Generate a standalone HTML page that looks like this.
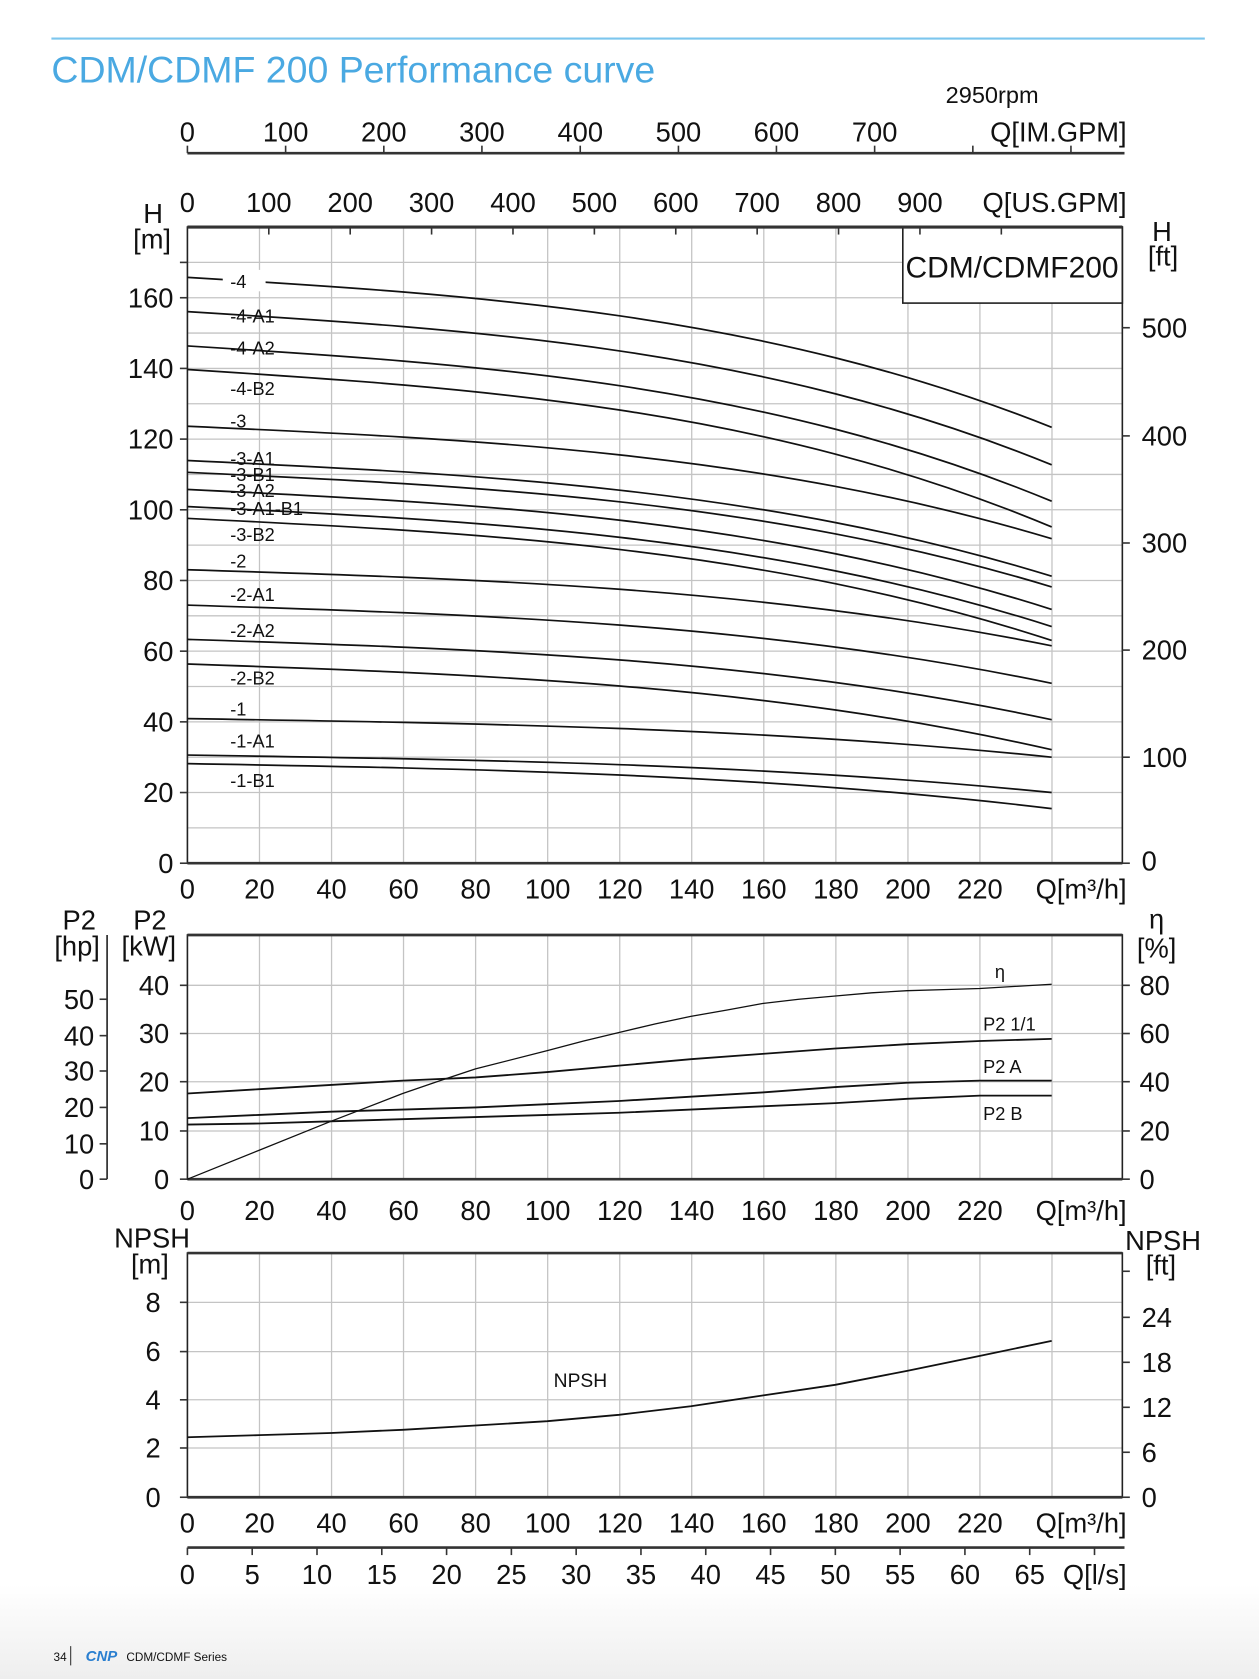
<!DOCTYPE html>
<html><head><meta charset="utf-8"><style>
html,body{margin:0;padding:0;background:#fff}
svg{display:block}
text{font-family:"Liberation Sans",Arial,sans-serif;fill:#111}
</style></head><body>
<svg width="1259" height="1679" viewBox="0 0 1175.6 1567.7" preserveAspectRatio="none" xmlns="http://www.w3.org/2000/svg">
<defs><linearGradient id="fg" x1="0" y1="0" x2="0" y2="1"><stop offset="0" stop-color="#fff"/><stop offset="1" stop-color="#eeeeee"/></linearGradient></defs>
<rect x="0" y="1480" width="1176" height="88" fill="url(#fg)"/>
<line x1="48" y1="36" x2="1125" y2="36" stroke="#7cc6ee" stroke-width="2"/>
<text x="48" y="77" font-size="35" style="fill:#4aa9e2">CDM/CDMF 200 Performance curve</text>
<text x="883" y="96" font-size="22">2950rpm</text>

<!-- IM GPM axis -->
<g font-size="25.5" text-anchor="middle">
<line x1="175" y1="143" x2="1050" y2="143" stroke="#333" stroke-width="2.5"/>
<g stroke="#333" stroke-width="1.5">
<line x1="175" y1="136" x2="175" y2="143"/><line x1="266.7" y1="136" x2="266.7" y2="143"/><line x1="358.4" y1="136" x2="358.4" y2="143"/><line x1="450" y1="136" x2="450" y2="143"/><line x1="541.8" y1="136" x2="541.8" y2="143"/><line x1="633.5" y1="136" x2="633.5" y2="143"/><line x1="725" y1="136" x2="725" y2="143"/><line x1="816.7" y1="136" x2="816.7" y2="143"/><line x1="908.4" y1="136" x2="908.4" y2="143"/><line x1="1000" y1="136" x2="1000" y2="143"/></g>
<text x="175" y="132">0</text><text x="266.7" y="132">100</text><text x="358.4" y="132">200</text><text x="450" y="132">300</text><text x="541.8" y="132">400</text><text x="633.5" y="132">500</text><text x="725" y="132">600</text><text x="816.7" y="132">700</text>
<text x="1052" y="132" text-anchor="end">Q[IM.GPM]</text>
</g>

<!-- Chart 1 -->
<g stroke="#c4c4c4" stroke-width="1.2">
<line x1="242.3" y1="212" x2="242.3" y2="806"/><line x1="309.6" y1="212" x2="309.6" y2="806"/><line x1="376.8" y1="212" x2="376.8" y2="806"/><line x1="444.1" y1="212" x2="444.1" y2="806"/><line x1="511.4" y1="212" x2="511.4" y2="806"/><line x1="578.7" y1="212" x2="578.7" y2="806"/><line x1="645.9" y1="212" x2="645.9" y2="806"/><line x1="713.2" y1="212" x2="713.2" y2="806"/><line x1="780.5" y1="212" x2="780.5" y2="806"/><line x1="847.8" y1="212" x2="847.8" y2="806"/><line x1="915" y1="212" x2="915" y2="806"/><line x1="982.3" y1="212" x2="982.3" y2="806"/>
<line x1="175" y1="245" x2="1048" y2="245"/><line x1="175" y1="278" x2="1048" y2="278"/><line x1="175" y1="311" x2="1048" y2="311"/><line x1="175" y1="344" x2="1048" y2="344"/><line x1="175" y1="377" x2="1048" y2="377"/><line x1="175" y1="410" x2="1048" y2="410"/><line x1="175" y1="443" x2="1048" y2="443"/><line x1="175" y1="476" x2="1048" y2="476"/><line x1="175" y1="509" x2="1048" y2="509"/><line x1="175" y1="542" x2="1048" y2="542"/><line x1="175" y1="575" x2="1048" y2="575"/><line x1="175" y1="608" x2="1048" y2="608"/><line x1="175" y1="641" x2="1048" y2="641"/><line x1="175" y1="674" x2="1048" y2="674"/><line x1="175" y1="707" x2="1048" y2="707"/><line x1="175" y1="740" x2="1048" y2="740"/><line x1="175" y1="773" x2="1048" y2="773"/>
</g>
<rect x="843" y="212" width="205" height="71" fill="#fff" stroke="#222" stroke-width="1.5"/>
<text x="945" y="259" font-size="28" text-anchor="middle">CDM/CDMF200</text>
<rect x="175" y="212" width="873" height="594" fill="none" stroke="#222" stroke-width="1.5"/>
<line x1="175" y1="212" x2="1048" y2="212" stroke="#333" stroke-width="3"/>
<line x1="175" y1="806" x2="1048" y2="806" stroke="#333" stroke-width="2.5"/>
<g stroke="#333" stroke-width="1.5">
<line x1="251" y1="212" x2="251" y2="219"/><line x1="327" y1="212" x2="327" y2="219"/><line x1="403" y1="212" x2="403" y2="219"/><line x1="479" y1="212" x2="479" y2="219"/><line x1="555" y1="212" x2="555" y2="219"/><line x1="631" y1="212" x2="631" y2="219"/><line x1="707" y1="212" x2="707" y2="219"/><line x1="783" y1="212" x2="783" y2="219"/><line x1="859" y1="212" x2="859" y2="219"/><line x1="935" y1="212" x2="935" y2="219"/>
<line x1="168" y1="278" x2="175" y2="278"/><line x1="168" y1="344" x2="175" y2="344"/><line x1="168" y1="410" x2="175" y2="410"/><line x1="168" y1="476" x2="175" y2="476"/><line x1="168" y1="542" x2="175" y2="542"/><line x1="168" y1="608" x2="175" y2="608"/><line x1="168" y1="674" x2="175" y2="674"/><line x1="168" y1="740" x2="175" y2="740"/><line x1="168" y1="806" x2="175" y2="806"/><line x1="168" y1="245" x2="175" y2="245"/>
<line x1="1048" y1="306" x2="1055" y2="306"/><line x1="1048" y1="407" x2="1055" y2="407"/><line x1="1048" y1="507" x2="1055" y2="507"/><line x1="1048" y1="607" x2="1055" y2="607"/><line x1="1048" y1="707" x2="1055" y2="707"/><line x1="1048" y1="806" x2="1055" y2="806"/>
</g>
<g font-size="25.5" text-anchor="middle">
<text x="175" y="198">0</text><text x="251" y="198">100</text><text x="327" y="198">200</text><text x="403" y="198">300</text><text x="479" y="198">400</text><text x="555" y="198">500</text><text x="631" y="198">600</text><text x="707" y="198">700</text><text x="783" y="198">800</text><text x="859" y="198">900</text>
<text x="1052" y="198" text-anchor="end">Q[US.GPM]</text>
<text x="143" y="208">H</text><text x="142" y="232">[m]</text>
<text x="1085" y="225">H</text><text x="1086" y="248">[ft]</text>
</g>
<g font-size="25.5" text-anchor="end">
<text x="162" y="287">160</text><text x="162" y="353">140</text><text x="162" y="419">120</text><text x="162" y="485">100</text><text x="162" y="551">80</text><text x="162" y="617">60</text><text x="162" y="683">40</text><text x="162" y="749">20</text><text x="162" y="815">0</text>
</g>
<g font-size="25.5">
<text x="1066" y="315">500</text><text x="1066" y="416">400</text><text x="1066" y="516">300</text><text x="1066" y="616">200</text><text x="1066" y="716">100</text><text x="1066" y="813">0</text>
</g>
<g font-size="25.5" text-anchor="middle">
<text x="175" y="839">0</text><text x="242.3" y="839">20</text><text x="309.6" y="839">40</text><text x="376.8" y="839">60</text><text x="444.1" y="839">80</text><text x="511.4" y="839">100</text><text x="578.7" y="839">120</text><text x="645.9" y="839">140</text><text x="713.2" y="839">160</text><text x="780.5" y="839">180</text><text x="847.8" y="839">200</text><text x="915" y="839">220</text>
<text x="1052" y="839" text-anchor="end">Q[m³/h]</text>
</g>
<!-- H curves -->
<g fill="none" stroke="#111" stroke-width="1.6">
<path d="M175,259 C444,275.3 713,291.7 982,399"/>
<path d="M175,291 C444,307.7 713,324.4 982,434"/>
<path d="M175,323 C444,339.9 713,356.8 982,468"/>
<path d="M175,345 C444,362.3 713,379.6 982,492"/>
<path d="M175,398 C444,410.1 713,422.2 982,503"/>
<path d="M175,430 C444,442.6 713,455.2 982,538"/>
<path d="M175,441 C444,453.6 713,466.2 982,548"/>
<path d="M175,457 C444,470.1 713,483.1 982,569"/>
<path d="M175,473 C444,486.1 713,499.1 982,585"/>
<path d="M175,484 C444,497.2 713,510.3 982,598"/>
<path d="M175,532 C444,540.3 713,548.6 982,603"/>
<path d="M175,565 C444,573.5 713,581.9 982,638"/>
<path d="M175,597 C444,605.8 713,614.3 982,672"/>
<path d="M175,620 C444,629.3 713,638.7 982,700"/>
<path d="M175,671 C444,675.2 713,679.4 982,707"/>
<path d="M175,705 C444,709.1 713,713.2 982,740"/>
<path d="M175,713 C444,717.8 713,722.6 982,755"/>
</g>
<g font-size="17">
<rect x="208" y="252" width="40" height="20" fill="#fff"/>
<text x="215" y="269">-4</text><text x="215" y="301">-4-A1</text><text x="215" y="331">-4-A2</text><text x="215" y="369">-4-B2</text><text x="215" y="399">-3</text><text x="215" y="434">-3-A1</text><text x="215" y="449">-3-B1</text><text x="215" y="464">-3-A2</text><text x="215" y="481">-3-A1-B1</text><text x="215" y="505">-3-B2</text><text x="215" y="530">-2</text><text x="215" y="561">-2-A1</text><text x="215" y="595">-2-A2</text><text x="215" y="639">-2-B2</text><text x="215" y="668">-1</text><text x="215" y="698">-1-A1</text><text x="215" y="735">-1-B1</text>
</g>

<!-- Chart 2 -->
<g stroke="#c4c4c4" stroke-width="1.2">
<line x1="242.3" y1="873" x2="242.3" y2="1101"/><line x1="309.6" y1="873" x2="309.6" y2="1101"/><line x1="376.8" y1="873" x2="376.8" y2="1101"/><line x1="444.1" y1="873" x2="444.1" y2="1101"/><line x1="511.4" y1="873" x2="511.4" y2="1101"/><line x1="578.7" y1="873" x2="578.7" y2="1101"/><line x1="645.9" y1="873" x2="645.9" y2="1101"/><line x1="713.2" y1="873" x2="713.2" y2="1101"/><line x1="780.5" y1="873" x2="780.5" y2="1101"/><line x1="847.8" y1="873" x2="847.8" y2="1101"/><line x1="915" y1="873" x2="915" y2="1101"/><line x1="982.3" y1="873" x2="982.3" y2="1101"/>
<line x1="175" y1="1056" x2="1048" y2="1056"/><line x1="175" y1="1010" x2="1048" y2="1010"/><line x1="175" y1="965" x2="1048" y2="965"/><line x1="175" y1="920" x2="1048" y2="920"/>
</g>
<rect x="175" y="873" width="873" height="228" fill="none" stroke="#222" stroke-width="1.5"/>
<line x1="175" y1="873" x2="1048" y2="873" stroke="#333" stroke-width="2.5"/>
<line x1="175" y1="1101" x2="1048" y2="1101" stroke="#333" stroke-width="2.5"/>
<line x1="100" y1="873" x2="100" y2="1101" stroke="#222" stroke-width="1.5"/>
<g stroke="#333" stroke-width="1.5">
<line x1="93" y1="933" x2="100" y2="933"/><line x1="93" y1="967" x2="100" y2="967"/><line x1="93" y1="1000" x2="100" y2="1000"/><line x1="93" y1="1034" x2="100" y2="1034"/><line x1="93" y1="1068" x2="100" y2="1068"/><line x1="93" y1="1101" x2="100" y2="1101"/>
<line x1="168" y1="920" x2="175" y2="920"/><line x1="168" y1="965" x2="175" y2="965"/><line x1="168" y1="1010" x2="175" y2="1010"/><line x1="168" y1="1056" x2="175" y2="1056"/><line x1="168" y1="1101" x2="175" y2="1101"/>
<line x1="1048" y1="920" x2="1055" y2="920"/><line x1="1048" y1="965" x2="1055" y2="965"/><line x1="1048" y1="1010" x2="1055" y2="1010"/><line x1="1048" y1="1056" x2="1055" y2="1056"/><line x1="1048" y1="1101" x2="1055" y2="1101"/>
</g>
<g font-size="25.5" text-anchor="middle">
<text x="74" y="868">P2</text><text x="72" y="892">[hp]</text>
<text x="140" y="868">P2</text><text x="139" y="892">[kW]</text>
<text x="1080" y="867">η</text><text x="1080" y="894">[%]</text>
</g>
<g font-size="25.5" text-anchor="end">
<text x="88" y="942">50</text><text x="88" y="976">40</text><text x="88" y="1009">30</text><text x="88" y="1043">20</text><text x="88" y="1077">10</text><text x="88" y="1110">0</text>
<text x="158" y="929">40</text><text x="158" y="974">30</text><text x="158" y="1019">20</text><text x="158" y="1065">10</text><text x="158" y="1110">0</text>
</g>
<g font-size="25.5">
<text x="1064" y="929">80</text><text x="1064" y="974">60</text><text x="1064" y="1019">40</text><text x="1064" y="1065">20</text><text x="1064" y="1110">0</text>
</g>
<g font-size="25.5" text-anchor="middle">
<text x="175" y="1139">0</text><text x="242.3" y="1139">20</text><text x="309.6" y="1139">40</text><text x="376.8" y="1139">60</text><text x="444.1" y="1139">80</text><text x="511.4" y="1139">100</text><text x="578.7" y="1139">120</text><text x="645.9" y="1139">140</text><text x="713.2" y="1139">160</text><text x="780.5" y="1139">180</text><text x="847.8" y="1139">200</text><text x="915" y="1139">220</text>
<text x="1052" y="1139" text-anchor="end">Q[m³/h]</text>
</g>
<g fill="none" stroke="#111" stroke-linejoin="round">
<polyline stroke-width="1.2" points="175,1101 242,1074 309,1047 376,1021 411,1009 444,998 511,981 545,972 578,964 612,956 645,949 679,943 712,937 746,933 780,930 814,927 847,925 881,924 915,923 948,921 982,919"/>
<polyline stroke-width="1.7" points="175,1021 242,1017 309,1013 376,1009 444,1006 511,1001 578,995 645,989 712,984 780,979 847,975 915,972 982,970"/>
<polyline stroke-width="1.7" points="175,1044 242,1041 309,1038 376,1036 444,1034 511,1031 578,1028 645,1024 712,1020 780,1015 847,1011 915,1009 982,1009"/>
<polyline stroke-width="1.7" points="175,1050 242,1049 309,1047 376,1045 444,1043 511,1041 578,1039 645,1036 712,1033 780,1030 847,1026 915,1023 982,1023"/>
</g>
<g font-size="17">
<text x="929" y="913">η</text><text x="918" y="962">P2 1/1</text><text x="918" y="1002">P2 A</text><text x="918" y="1046">P2 B</text>
</g>

<!-- Chart 3 -->
<g stroke="#c4c4c4" stroke-width="1.2">
<line x1="242.3" y1="1170" x2="242.3" y2="1398"/><line x1="309.6" y1="1170" x2="309.6" y2="1398"/><line x1="376.8" y1="1170" x2="376.8" y2="1398"/><line x1="444.1" y1="1170" x2="444.1" y2="1398"/><line x1="511.4" y1="1170" x2="511.4" y2="1398"/><line x1="578.7" y1="1170" x2="578.7" y2="1398"/><line x1="645.9" y1="1170" x2="645.9" y2="1398"/><line x1="713.2" y1="1170" x2="713.2" y2="1398"/><line x1="780.5" y1="1170" x2="780.5" y2="1398"/><line x1="847.8" y1="1170" x2="847.8" y2="1398"/><line x1="915" y1="1170" x2="915" y2="1398"/><line x1="982.3" y1="1170" x2="982.3" y2="1398"/>
<line x1="175" y1="1352" x2="1048" y2="1352"/><line x1="175" y1="1307" x2="1048" y2="1307"/><line x1="175" y1="1262" x2="1048" y2="1262"/><line x1="175" y1="1216" x2="1048" y2="1216"/>
</g>
<rect x="175" y="1170" width="873" height="228" fill="none" stroke="#222" stroke-width="1.5"/>
<line x1="175" y1="1170" x2="1048" y2="1170" stroke="#333" stroke-width="2.5"/>
<line x1="175" y1="1398" x2="1048" y2="1398" stroke="#333" stroke-width="2.5"/>
<g stroke="#333" stroke-width="1.5">
<line x1="168" y1="1216" x2="175" y2="1216"/><line x1="168" y1="1262" x2="175" y2="1262"/><line x1="168" y1="1307" x2="175" y2="1307"/><line x1="168" y1="1352" x2="175" y2="1352"/><line x1="168" y1="1398" x2="175" y2="1398"/>
<line x1="1048" y1="1187" x2="1055" y2="1187"/><line x1="1048" y1="1230" x2="1055" y2="1230"/><line x1="1048" y1="1272" x2="1055" y2="1272"/><line x1="1048" y1="1314" x2="1055" y2="1314"/><line x1="1048" y1="1356" x2="1055" y2="1356"/><line x1="1048" y1="1398" x2="1055" y2="1398"/>
</g>
<g font-size="25.5" text-anchor="middle">
<text x="142" y="1165">NPSH</text><text x="140" y="1189">[m]</text>
<text x="1086" y="1167">NPSH</text><text x="1084" y="1190">[ft]</text>
</g>
<g font-size="25.5" text-anchor="end">
<text x="150" y="1225">8</text><text x="150" y="1271">6</text><text x="150" y="1316">4</text><text x="150" y="1361">2</text><text x="150" y="1407">0</text>
</g>
<g font-size="25.5">
<text x="1066" y="1239">24</text><text x="1066" y="1281">18</text><text x="1066" y="1323">12</text><text x="1066" y="1365">6</text><text x="1066" y="1407">0</text>
</g>
<polyline fill="none" stroke="#111" stroke-width="1.7" points="175,1342 242,1340 309,1338 376,1335 444,1331 511,1327 578,1321 645,1313 712,1303 780,1293 847,1280 915,1266 982,1252"/>
<text x="517" y="1295" font-size="18">NPSH</text>
<g font-size="25.5" text-anchor="middle">
<text x="175" y="1431">0</text><text x="242.3" y="1431">20</text><text x="309.6" y="1431">40</text><text x="376.8" y="1431">60</text><text x="444.1" y="1431">80</text><text x="511.4" y="1431">100</text><text x="578.7" y="1431">120</text><text x="645.9" y="1431">140</text><text x="713.2" y="1431">160</text><text x="780.5" y="1431">180</text><text x="847.8" y="1431">200</text><text x="915" y="1431">220</text>
<text x="1052" y="1431" text-anchor="end">Q[m³/h]</text>
</g>
<!-- l/s axis -->
<line x1="175" y1="1445" x2="1050" y2="1445" stroke="#333" stroke-width="2.5"/>
<g stroke="#333" stroke-width="1.5">
<line x1="175" y1="1445" x2="175" y2="1452"/><line x1="235.5" y1="1445" x2="235.5" y2="1452"/><line x1="296" y1="1445" x2="296" y2="1452"/><line x1="356.5" y1="1445" x2="356.5" y2="1452"/><line x1="417" y1="1445" x2="417" y2="1452"/><line x1="477.5" y1="1445" x2="477.5" y2="1452"/><line x1="538" y1="1445" x2="538" y2="1452"/><line x1="598.5" y1="1445" x2="598.5" y2="1452"/><line x1="659" y1="1445" x2="659" y2="1452"/><line x1="719.5" y1="1445" x2="719.5" y2="1452"/><line x1="780" y1="1445" x2="780" y2="1452"/><line x1="840.5" y1="1445" x2="840.5" y2="1452"/><line x1="901" y1="1445" x2="901" y2="1452"/><line x1="961.5" y1="1445" x2="961.5" y2="1452"/><line x1="1022" y1="1445" x2="1022" y2="1452"/>
</g>
<g font-size="25.5" text-anchor="middle">
<text x="175" y="1479">0</text><text x="235.5" y="1479">5</text><text x="296" y="1479">10</text><text x="356.5" y="1479">15</text><text x="417" y="1479">20</text><text x="477.5" y="1479">25</text><text x="538" y="1479">30</text><text x="598.5" y="1479">35</text><text x="659" y="1479">40</text><text x="719.5" y="1479">45</text><text x="780" y="1479">50</text><text x="840.5" y="1479">55</text><text x="901" y="1479">60</text><text x="961.5" y="1479">65</text>
<text x="1052" y="1479" text-anchor="end">Q[l/s]</text>
</g>
<!-- footer -->
<text x="50" y="1551" font-size="11">34</text>
<line x1="66" y1="1537" x2="66" y2="1555" stroke="#333" stroke-width="1"/>
<text x="80" y="1551" font-size="14" font-weight="bold" font-style="italic" style="fill:#2a7fd0">CNP</text>
<text x="118" y="1551" font-size="11">CDM/CDMF Series</text>
</svg>
</body></html>
